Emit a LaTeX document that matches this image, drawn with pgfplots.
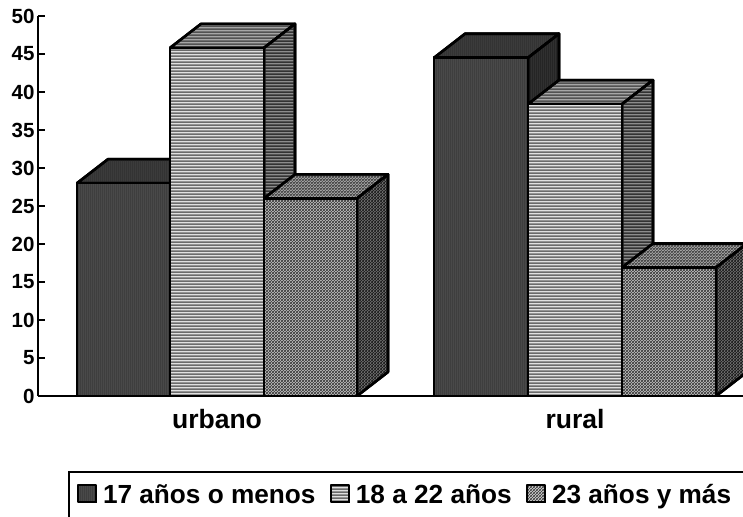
\documentclass[border=0pt]{standalone}
\usepackage{fontspec}
\setmainfont{Liberation Sans}
\usepackage{pgfplots}
\pgfplotsset{compat=1.18}
\usetikzlibrary{patterns}

% fine textures of the bars, tiles on whole pixels so that no seams show
\pgfdeclarepatternformonly{hstripe}{\pgfpoint{0pt}{0pt}}{\pgfpoint{99pt}{3pt}}{\pgfpoint{99pt}{3pt}}{%
  \pgfsetlinewidth{2pt}%
  \pgfpathmoveto{\pgfpoint{-1pt}{1pt}}\pgfpathlineto{\pgfpoint{100pt}{1pt}}\pgfusepath{stroke}}
\pgfdeclarepatternformonly{vstripe}{\pgfpoint{0pt}{0pt}}{\pgfpoint{2pt}{99pt}}{\pgfpoint{2pt}{99pt}}{%
  \pgfsetlinewidth{1pt}%
  \pgfpathmoveto{\pgfpoint{1pt}{-1pt}}\pgfpathlineto{\pgfpoint{1pt}{100pt}}\pgfusepath{stroke}}
\pgfdeclarepatternformonly{dstripe}{\pgfpoint{0pt}{0pt}}{\pgfpoint{3pt}{3pt}}{\pgfpoint{3pt}{3pt}}{%
  \pgfsetlinewidth{1pt}%
  \pgfpathmoveto{\pgfpoint{-1pt}{-1pt}}\pgfpathlineto{\pgfpoint{4pt}{4pt}}%
  \pgfpathmoveto{\pgfpoint{-1pt}{2pt}}\pgfpathlineto{\pgfpoint{1pt}{4pt}}%
  \pgfpathmoveto{\pgfpoint{2pt}{-1pt}}\pgfpathlineto{\pgfpoint{4pt}{1pt}}\pgfusepath{stroke}}

\tikzset{
  face/.style={draw=black, line width=2.6pt, line join=round},
  fa/.style={face, preaction={fill=black!70}, pattern=vstripe, pattern color=black!78},
  ta/.style={face, preaction={fill=black!76}, pattern=vstripe, pattern color=black!82},
  sa/.style={face, preaction={fill=black!80}, pattern=vstripe, pattern color=black!88},
  fb/.style={face, preaction={fill=black!12}, pattern=hstripe, pattern color=black!58},
  tb/.style={face, preaction={fill=black!35}, pattern=hstripe, pattern color=black!68},
  sb/.style={face, preaction={fill=black!45}, pattern=hstripe, pattern color=black!80},
  fc/.style={face, preaction={fill=black!8}, pattern=dstripe, pattern color=black!72},
  tc/.style={face, preaction={fill=black!28}, pattern=dstripe, pattern color=black!72},
  sc/.style={face, preaction={fill=black!50}, pattern=dstripe, pattern color=black!88},
}

% x0, x1, value, front, top, side
\newcommand{\boxbar}[6]{%
  \pgfmathsetmacro{\xb}{#2+31}%
  \pgfmathsetmacro{\xa}{#1+31}%
  \pgfmathsetmacro{\vb}{#3+3.16}%
  \addplot[#5, forget plot] coordinates {(#1,#3) (\xa,\vb) (\xb,\vb) (#2,#3) (#1,#3)};
  \addplot[#6, forget plot] coordinates {(#2,0) (\xb,3.16) (\xb,\vb) (#2,#3) (#2,0)};
  \addplot[#4, forget plot] coordinates {(#1,0) (#2,0) (#2,#3) (#1,#3) (#1,0)};
}

\begin{document}
\begin{tikzpicture}[x=1pt,y=1pt]
\clip[use as bounding box] (0,0) rectangle (743,516);
\begin{axis}[
  at={(38pt,120pt)}, anchor=origin,
  scale only axis, width=705pt, height=380pt,
  xmin=0, xmax=705, ymin=0, ymax=50,
  axis x line=bottom, axis y line=left,
  axis line style={line width=2.2pt, -},
  ytick={0,5,...,50},
  xtick={179,537}, xticklabels={urbano,rural},
  major tick length=7pt,
  tick align=inside,
  xtick style={draw=none},
  extra x ticks={358}, extra x tick labels={},
  extra x tick style={tick style={draw=black, line width=2pt}},
  ytick style={draw=black, line width=2pt},
  yticklabel style={font=\fontsize{20.5}{22}\bfseries\selectfont, /pgf/number format/assume math mode=true},
  xticklabel style={font=\fontsize{26.5}{28}\bfseries\selectfont, yshift=-10pt},
  legend style={
    at={(axis cs:31,-9.95)}, anchor=north west,
    draw=none, fill=none,
    legend columns=3,
    font=\fontsize{26.2}{29}\bfseries\selectfont,
    /tikz/every even column/.style={column sep=12.5pt},
    /tikz/every odd column/.style={column sep=4pt},
    inner xsep=8pt, inner ysep=9.5pt,
    legend cell align=left,
  },
  % the legend box runs off the page: only its top and left edges show
  after end axis/.code={
    \draw[line width=2.2pt, line join=miter] (axis cs:31,-16) -- (axis cs:31,-9.95) -- (axis cs:720,-9.95);
  },
]
\addlegendimage{legend image code/.code={\path[fa,line width=1.8pt] (0pt,-8pt) rectangle (18pt,9pt);}}
\addlegendentry{\strut 17 años o menos}
\addlegendimage{legend image code/.code={\path[fb,line width=1.8pt] (0pt,-8pt) rectangle (18pt,9pt);}}
\addlegendentry{\strut 18 a 22 años}
\addlegendimage{legend image code/.code={\path[fc,line width=1.8pt] (0pt,-8pt) rectangle (18pt,9pt);}}
\addlegendentry{\strut 23 años y más}

\boxbar{39}{132}{28}{fa}{ta}{sa}
\boxbar{132}{226}{45.8}{fb}{tb}{sb}
\boxbar{226}{319}{26}{fc}{tc}{sc}
\boxbar{396}{490}{44.5}{fa}{ta}{sa}
\boxbar{490}{584}{38.4}{fb}{tb}{sb}
\boxbar{584}{678}{16.9}{fc}{tc}{sc}
\end{axis}
\end{tikzpicture}
\end{document}
